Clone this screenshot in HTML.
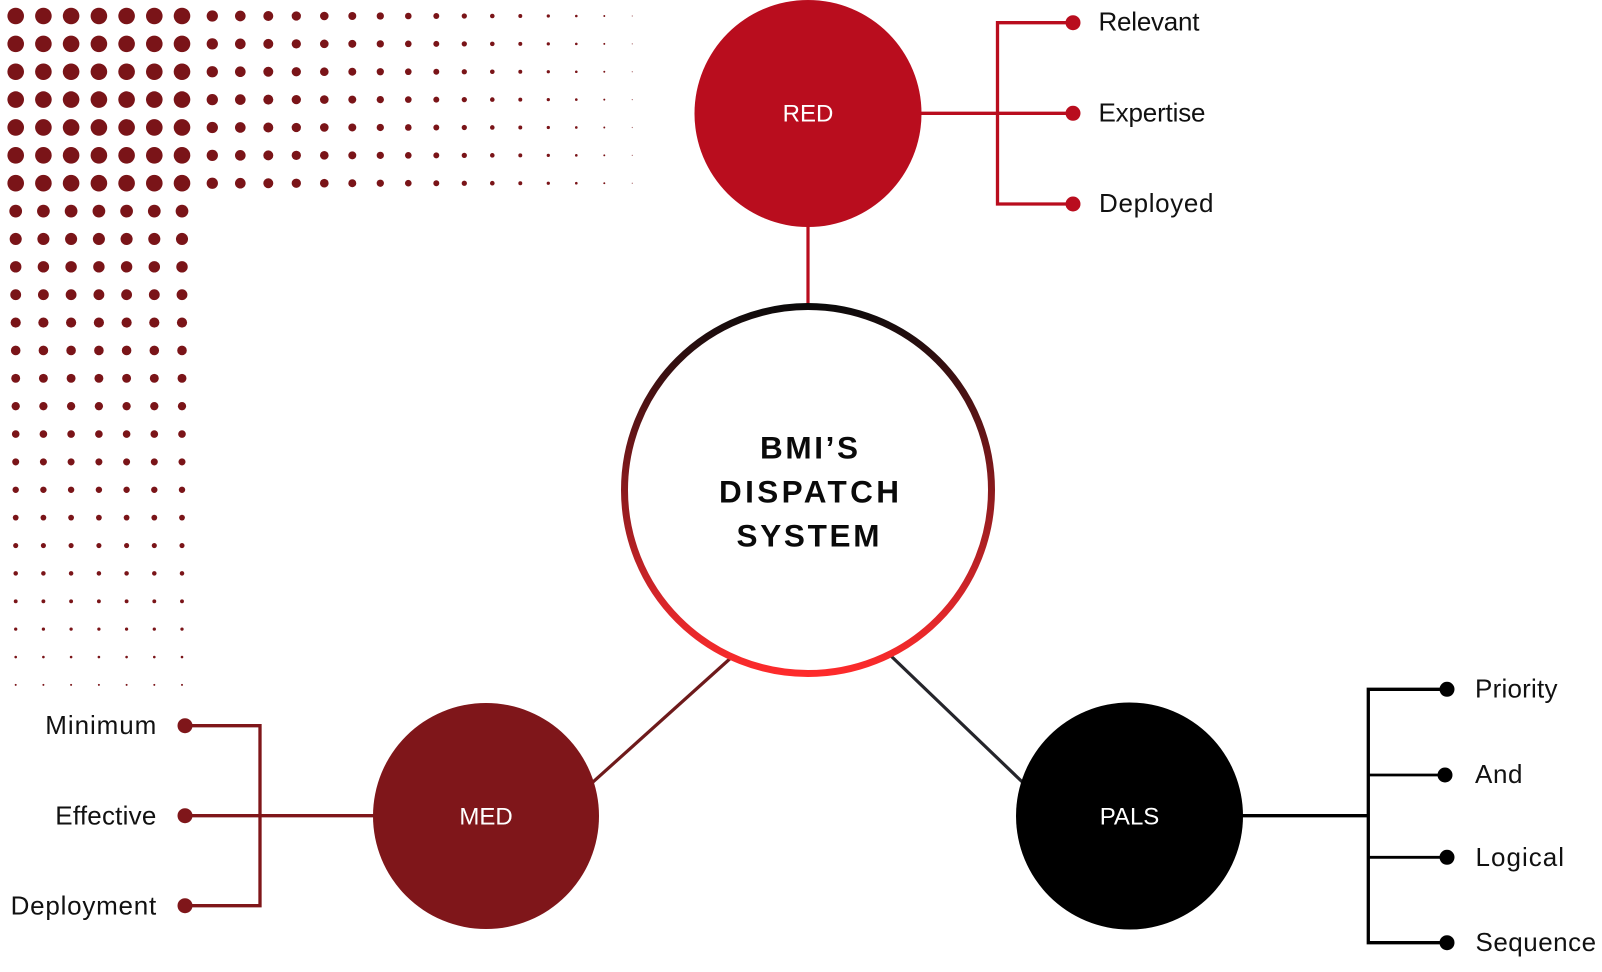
<!DOCTYPE html>
<html>
<head>
<meta charset="utf-8">
<style>
  html, body { margin: 0; padding: 0; background: #ffffff; }
  body { width: 1602px; height: 972px; overflow: hidden; }
  svg { display: block; }
  .lbl { font-family: "Liberation Sans", Arial, sans-serif; font-size: 26px; fill: #111111; }
  .node { font-family: "Liberation Sans", Arial, sans-serif; font-size: 24px; fill: #ffffff; }
  .title { font-family: "Liberation Sans", Arial, sans-serif; font-size: 31.5px; font-weight: bold; fill: #0a0a0a; }
</style>
</head>
<body>
<svg width="1602" height="972" viewBox="0 0 1602 972" xmlns="http://www.w3.org/2000/svg">
  <defs>
    <linearGradient id="ring" gradientUnits="userSpaceOnUse" x1="0" y1="303" x2="0" y2="677">
      <stop offset="0" stop-color="#0a0a0a"/>
      <stop offset="0.5" stop-color="#8a1a1d"/>
      <stop offset="0.8" stop-color="#d8262a"/>
      <stop offset="1" stop-color="#ff2b2b"/>
    </linearGradient>
    <g id="toprow">
      <circle cx="15.7" cy="0" r="8.3"/>
      <circle cx="43.4" cy="0" r="8.3"/>
      <circle cx="71.1" cy="0" r="8.3"/>
      <circle cx="98.9" cy="0" r="8.3"/>
      <circle cx="126.6" cy="0" r="8.3"/>
      <circle cx="154.3" cy="0" r="8.3"/>
      <circle cx="182.0" cy="0" r="8.3"/>
      <circle cx="212.3" cy="0" r="5.65"/>
      <circle cx="240.3" cy="0" r="5.32"/>
      <circle cx="268.3" cy="0" r="4.98"/>
      <circle cx="296.3" cy="0" r="4.65"/>
      <circle cx="324.3" cy="0" r="4.31"/>
      <circle cx="352.3" cy="0" r="3.98"/>
      <circle cx="380.3" cy="0" r="3.64"/>
      <circle cx="408.3" cy="0" r="3.31"/>
      <circle cx="436.3" cy="0" r="2.97"/>
      <circle cx="464.3" cy="0" r="2.64"/>
      <circle cx="492.3" cy="0" r="2.3"/>
      <circle cx="520.3" cy="0" r="1.97"/>
      <circle cx="548.3" cy="0" r="1.63"/>
      <circle cx="576.3" cy="0" r="1.3"/>
      <circle cx="604.3" cy="0" r="0.96"/>
      <circle cx="632.3" cy="0" r="0.63" fill-opacity="0.6"/>
    </g>
  </defs>

  <!-- Dot grid -->
  <g fill="#7a1418">
    <use href="#toprow" x="0" y="16"/>
    <use href="#toprow" x="0" y="43.87"/>
    <use href="#toprow" x="0" y="71.74"/>
    <use href="#toprow" x="0" y="99.61"/>
    <use href="#toprow" x="0" y="127.48"/>
    <use href="#toprow" x="0" y="155.35"/>
    <use href="#toprow" x="0" y="183.22"/>

    <g><circle cx="15.7" cy="211.09" r="6.35"/><circle cx="43.4" cy="211.09" r="6.35"/><circle cx="71.1" cy="211.09" r="6.35"/><circle cx="98.9" cy="211.09" r="6.35"/><circle cx="126.6" cy="211.09" r="6.35"/><circle cx="154.3" cy="211.09" r="6.35"/><circle cx="182.0" cy="211.09" r="6.35"/></g>
    <g><circle cx="15.7" cy="238.96" r="6.04"/><circle cx="43.4" cy="238.96" r="6.04"/><circle cx="71.1" cy="238.96" r="6.04"/><circle cx="98.9" cy="238.96" r="6.04"/><circle cx="126.6" cy="238.96" r="6.04"/><circle cx="154.3" cy="238.96" r="6.04"/><circle cx="182.0" cy="238.96" r="6.04"/></g>
    <g><circle cx="15.7" cy="266.83" r="5.72"/><circle cx="43.4" cy="266.83" r="5.72"/><circle cx="71.1" cy="266.83" r="5.72"/><circle cx="98.9" cy="266.83" r="5.72"/><circle cx="126.6" cy="266.83" r="5.72"/><circle cx="154.3" cy="266.83" r="5.72"/><circle cx="182.0" cy="266.83" r="5.72"/></g>
    <g><circle cx="15.7" cy="294.70" r="5.41"/><circle cx="43.4" cy="294.70" r="5.41"/><circle cx="71.1" cy="294.70" r="5.41"/><circle cx="98.9" cy="294.70" r="5.41"/><circle cx="126.6" cy="294.70" r="5.41"/><circle cx="154.3" cy="294.70" r="5.41"/><circle cx="182.0" cy="294.70" r="5.41"/></g>
    <g><circle cx="15.7" cy="322.57" r="5.09"/><circle cx="43.4" cy="322.57" r="5.09"/><circle cx="71.1" cy="322.57" r="5.09"/><circle cx="98.9" cy="322.57" r="5.09"/><circle cx="126.6" cy="322.57" r="5.09"/><circle cx="154.3" cy="322.57" r="5.09"/><circle cx="182.0" cy="322.57" r="5.09"/></g>
    <g><circle cx="15.7" cy="350.44" r="4.78"/><circle cx="43.4" cy="350.44" r="4.78"/><circle cx="71.1" cy="350.44" r="4.78"/><circle cx="98.9" cy="350.44" r="4.78"/><circle cx="126.6" cy="350.44" r="4.78"/><circle cx="154.3" cy="350.44" r="4.78"/><circle cx="182.0" cy="350.44" r="4.78"/></g>
    <g><circle cx="15.7" cy="378.31" r="4.46"/><circle cx="43.4" cy="378.31" r="4.46"/><circle cx="71.1" cy="378.31" r="4.46"/><circle cx="98.9" cy="378.31" r="4.46"/><circle cx="126.6" cy="378.31" r="4.46"/><circle cx="154.3" cy="378.31" r="4.46"/><circle cx="182.0" cy="378.31" r="4.46"/></g>
    <g><circle cx="15.7" cy="406.18" r="4.15"/><circle cx="43.4" cy="406.18" r="4.15"/><circle cx="71.1" cy="406.18" r="4.15"/><circle cx="98.9" cy="406.18" r="4.15"/><circle cx="126.6" cy="406.18" r="4.15"/><circle cx="154.3" cy="406.18" r="4.15"/><circle cx="182.0" cy="406.18" r="4.15"/></g>
    <g><circle cx="15.7" cy="434.05" r="3.83"/><circle cx="43.4" cy="434.05" r="3.83"/><circle cx="71.1" cy="434.05" r="3.83"/><circle cx="98.9" cy="434.05" r="3.83"/><circle cx="126.6" cy="434.05" r="3.83"/><circle cx="154.3" cy="434.05" r="3.83"/><circle cx="182.0" cy="434.05" r="3.83"/></g>
    <g><circle cx="15.7" cy="461.92" r="3.52"/><circle cx="43.4" cy="461.92" r="3.52"/><circle cx="71.1" cy="461.92" r="3.52"/><circle cx="98.9" cy="461.92" r="3.52"/><circle cx="126.6" cy="461.92" r="3.52"/><circle cx="154.3" cy="461.92" r="3.52"/><circle cx="182.0" cy="461.92" r="3.52"/></g>
    <g><circle cx="15.7" cy="489.79" r="3.2"/><circle cx="43.4" cy="489.79" r="3.2"/><circle cx="71.1" cy="489.79" r="3.2"/><circle cx="98.9" cy="489.79" r="3.2"/><circle cx="126.6" cy="489.79" r="3.2"/><circle cx="154.3" cy="489.79" r="3.2"/><circle cx="182.0" cy="489.79" r="3.2"/></g>
    <g><circle cx="15.7" cy="517.66" r="2.89"/><circle cx="43.4" cy="517.66" r="2.89"/><circle cx="71.1" cy="517.66" r="2.89"/><circle cx="98.9" cy="517.66" r="2.89"/><circle cx="126.6" cy="517.66" r="2.89"/><circle cx="154.3" cy="517.66" r="2.89"/><circle cx="182.0" cy="517.66" r="2.89"/></g>
    <g><circle cx="15.7" cy="545.53" r="2.57"/><circle cx="43.4" cy="545.53" r="2.57"/><circle cx="71.1" cy="545.53" r="2.57"/><circle cx="98.9" cy="545.53" r="2.57"/><circle cx="126.6" cy="545.53" r="2.57"/><circle cx="154.3" cy="545.53" r="2.57"/><circle cx="182.0" cy="545.53" r="2.57"/></g>
    <g><circle cx="15.7" cy="573.40" r="2.26"/><circle cx="43.4" cy="573.40" r="2.26"/><circle cx="71.1" cy="573.40" r="2.26"/><circle cx="98.9" cy="573.40" r="2.26"/><circle cx="126.6" cy="573.40" r="2.26"/><circle cx="154.3" cy="573.40" r="2.26"/><circle cx="182.0" cy="573.40" r="2.26"/></g>
    <g><circle cx="15.7" cy="601.27" r="1.94"/><circle cx="43.4" cy="601.27" r="1.94"/><circle cx="71.1" cy="601.27" r="1.94"/><circle cx="98.9" cy="601.27" r="1.94"/><circle cx="126.6" cy="601.27" r="1.94"/><circle cx="154.3" cy="601.27" r="1.94"/><circle cx="182.0" cy="601.27" r="1.94"/></g>
    <g><circle cx="15.7" cy="629.14" r="1.63"/><circle cx="43.4" cy="629.14" r="1.63"/><circle cx="71.1" cy="629.14" r="1.63"/><circle cx="98.9" cy="629.14" r="1.63"/><circle cx="126.6" cy="629.14" r="1.63"/><circle cx="154.3" cy="629.14" r="1.63"/><circle cx="182.0" cy="629.14" r="1.63"/></g>
    <g><circle cx="15.7" cy="657.01" r="1.31"/><circle cx="43.4" cy="657.01" r="1.31"/><circle cx="71.1" cy="657.01" r="1.31"/><circle cx="98.9" cy="657.01" r="1.31"/><circle cx="126.6" cy="657.01" r="1.31"/><circle cx="154.3" cy="657.01" r="1.31"/><circle cx="182.0" cy="657.01" r="1.31"/></g>
    <g><circle cx="15.7" cy="684.88" r="1.0"/><circle cx="43.4" cy="684.88" r="1.0"/><circle cx="71.1" cy="684.88" r="1.0"/><circle cx="98.9" cy="684.88" r="1.0"/><circle cx="126.6" cy="684.88" r="1.0"/><circle cx="154.3" cy="684.88" r="1.0"/><circle cx="182.0" cy="684.88" r="1.0"/></g>
  </g>

  <!-- Connectors -->
  <line x1="808" y1="220" x2="808" y2="310" stroke="#b90d1e" stroke-width="3.2"/>
  <line x1="733" y1="656" x2="589" y2="785.6" stroke="#6e1a1b" stroke-width="3.2"/>
  <line x1="891" y1="656" x2="1026" y2="785.5" stroke="#25252b" stroke-width="3.2"/>

  <!-- RED branches -->
  <g stroke="#b90d1e" stroke-width="3.3" fill="none" stroke-linejoin="miter">
    <path d="M1073 22.7 H997.5 V204 H1073"/>
    <path d="M915 113.3 H1073"/>
  </g>
  <g fill="#b90d1e">
    <circle cx="1073" cy="22.7" r="7.5"/>
    <circle cx="1073" cy="113.3" r="7.5"/>
    <circle cx="1073" cy="204" r="7.5"/>
  </g>

  <!-- MED branches -->
  <g stroke="#7f161a" stroke-width="3.3" fill="none" stroke-linejoin="miter">
    <path d="M185 725.7 H260 V905.7 H185"/>
    <path d="M185 815.7 H380"/>
  </g>
  <g fill="#7f161a">
    <circle cx="185" cy="725.7" r="7.5"/>
    <circle cx="185" cy="815.7" r="7.5"/>
    <circle cx="185" cy="905.7" r="7.5"/>
  </g>

  <!-- PALS branches -->
  <g stroke="#000000" stroke-width="3.3" fill="none" stroke-linejoin="miter">
    <path d="M1447 689.3 H1368.3 V942.7 H1447"/>
    <path d="M1236 815.7 H1368.3"/>
    <path d="M1368.3 775 H1445" stroke-width="2.8"/>
    <path d="M1368.3 857.3 H1447" stroke-width="2.8"/>
  </g>
  <g fill="#000000">
    <circle cx="1447" cy="689.3" r="7.5"/>
    <circle cx="1445" cy="775" r="7.5"/>
    <circle cx="1447" cy="857.3" r="7.5"/>
    <circle cx="1447" cy="942.7" r="7.5"/>
  </g>

  <!-- Central ring -->
  <circle cx="808" cy="490" r="183.5" fill="#ffffff" stroke="url(#ring)" stroke-width="7"/>

  <!-- Node circles -->
  <circle cx="808" cy="113.5" r="113.5" fill="#b90d1e"/>
  <circle cx="486" cy="816" r="113" fill="#7f161a"/>
  <circle cx="1129.5" cy="816" r="113.5" fill="#000000"/>

  <!-- Node labels -->
  <text class="node" x="808" y="121.7" text-anchor="middle">RED</text>
  <text class="node" x="486" y="824.3" text-anchor="middle">MED</text>
  <text class="node" x="1129.5" y="824.3" text-anchor="middle">PALS</text>

  <!-- Central title -->
  <text class="title" x="809" y="458.3" text-anchor="middle" textLength="98" lengthAdjust="spacing">BMI’S</text>
  <text class="title" x="809" y="502.7" text-anchor="middle" textLength="180" lengthAdjust="spacing">DISPATCH</text>
  <text class="title" x="808" y="546.7" text-anchor="middle" textLength="143" lengthAdjust="spacing">SYSTEM</text>

  <!-- RED labels -->
  <text class="lbl" x="1098.5" y="30.5" textLength="101" lengthAdjust="spacing">Relevant</text>
  <text class="lbl" x="1098.5" y="121.7" textLength="107" lengthAdjust="spacing">Expertise</text>
  <text class="lbl" x="1099" y="212" textLength="114.5" lengthAdjust="spacing">Deployed</text>

  <!-- MED labels -->
  <text class="lbl" x="45.3" y="733.8" textLength="111" lengthAdjust="spacing">Minimum</text>
  <text class="lbl" x="55.3" y="824.3" textLength="101" lengthAdjust="spacing">Effective</text>
  <text class="lbl" x="10.6" y="914.5" textLength="145.6" lengthAdjust="spacing">Deployment</text>

  <!-- PALS labels -->
  <text class="lbl" x="1475" y="697.3" textLength="82.5" lengthAdjust="spacing">Priority</text>
  <text class="lbl" x="1475" y="782.8" textLength="47.5" lengthAdjust="spacing">And</text>
  <text class="lbl" x="1475.5" y="866" textLength="88.5" lengthAdjust="spacing">Logical</text>
  <text class="lbl" x="1475.5" y="951" textLength="120.6" lengthAdjust="spacing">Sequence</text>
</svg>
</body>
</html>
